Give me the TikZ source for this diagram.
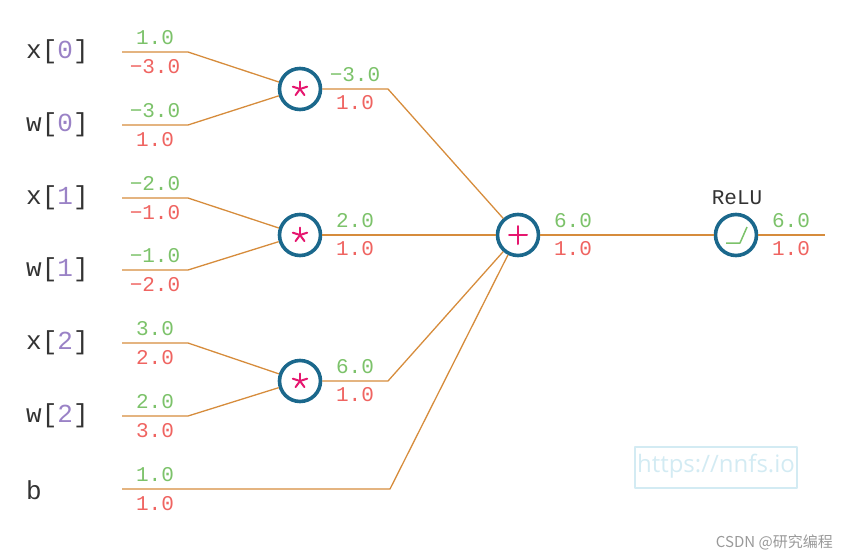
\documentclass[tikz,border=0pt]{standalone}
\usepackage{fontspec}
\setmainfont{Liberation Mono}
\newfontfamily\wmfont{Open Sans}
\newfontfamily\cjkfont{Noto Sans CJK SC}
\definecolor{wireorange}{HTML}{D68C3C}
\definecolor{fwdgreen}{HTML}{7CC26A}
\definecolor{gradred}{HTML}{EF6461}
\definecolor{gateblue}{HTML}{1B688C}
\definecolor{sympink}{HTML}{E6176F}
\definecolor{idxpurple}{HTML}{9A82C6}
\definecolor{lblgray}{HTML}{333333}
\definecolor{wmcyan}{HTML}{D3EBF3}
\newcommand\idx[1]{\textcolor{idxpurple}{#1}}

\begin{document}
\begin{tikzpicture}[x=1pt,y=-1pt,line join=round]
\tikzstyle{gate}=[circle,draw=gateblue,fill=white,line width=3.6pt,minimum size=41pt,inner sep=0pt]
\tikzstyle{wire}=[draw=wireorange,line width=1.3pt]
\tikzstyle{sym}=[draw=sympink,line width=2pt,line cap=round]
\tikzstyle{inlbl}=[anchor=west,inner sep=0pt,text=lblgray,font=\fontsize{26}{26}\selectfont]
\tikzstyle{val}=[inner sep=0pt,font=\fontsize{21}{21}\selectfont]
\tikzstyle{fwd}=[val,text=fwdgreen]
\tikzstyle{grad}=[val,text=gradred]
\useasboundingbox (0,0) rectangle (844,558);

% gates
\node[gate](m0) at (300,89) {};
\node[gate](m1) at (300,235) {};
\node[gate](m2) at (300,381) {};
\node[gate](add) at (518,235) {};
\node[gate](relu) at (736,235) {};
\node[inner sep=0pt,text=lblgray,font=\fontsize{21}{21}\selectfont](rlbl) at (737,198) {ReLU};

% gate symbols
\foreach \g in {m0,m1,m2}
  \foreach \a in {-90,-18,54,126,198}
    \draw[sym] (\g.center) -- +(\a:7.5);
\draw[sym] (add.center) +(-9,0) -- +(9,0) (add.center) +(0,-9) -- +(0,9);
\draw[draw=fwdgreen,line width=1.5pt] (relu.center) +(-10,8) -- +(4,8) -- +(11,-8);

% inputs
\node[inlbl](x0) at (26,52) {x[\idx{0}]};
\node[inlbl](w0) at (26,125) {w[\idx{0}]};
\node[inlbl](x1) at (26,198) {x[\idx{1}]};
\node[inlbl](w1) at (26,270) {w[\idx{1}]};
\node[inlbl](x2) at (26,343) {x[\idx{2}]};
\node[inlbl](w2) at (26,416) {w[\idx{2}]};
\node[inlbl](b) at (26,490) {b};

\coordinate (x0a) at (122,52);  \coordinate (x0k) at (188,52);
\coordinate (w0a) at (122,125); \coordinate (w0k) at (188,125);
\coordinate (x1a) at (122,198); \coordinate (x1k) at (188,198);
\coordinate (w1a) at (122,270); \coordinate (w1k) at (188,270);
\coordinate (x2a) at (122,343); \coordinate (x2k) at (188,343);
\coordinate (w2a) at (122,416); \coordinate (w2k) at (188,416);
\coordinate (ba) at (122,489);  \coordinate (bk) at (390,489);
\coordinate (m0k) at (388,89);
\coordinate (m2k) at (388,381);
\coordinate (out) at (825,235);

\draw[wire] (x0a) -- (x0k) -- (m0);
\draw[wire] (w0a) -- (w0k) -- (m0);
\draw[wire] (x1a) -- (x1k) -- (m1);
\draw[wire] (w1a) -- (w1k) -- (m1);
\draw[wire] (x2a) -- (x2k) -- (m2);
\draw[wire] (w2a) -- (w2k) -- (m2);
\draw[wire] (m0) -- (m0k) -- (add);
\draw[wire] (m1) -- (add);
\draw[wire] (m2) -- (m2k) -- (add);
\draw[wire] (ba) -- (bk) -- (add);
\draw[wire] (add) -- (relu);
\draw[wire] (relu) -- (out);

% forward values and gradients
\node[fwd](x0f) at (155,38) {1.0};   \node[grad](x0g) at (155,67) {−3.0};
\node[fwd](w0f) at (155,111) {−3.0}; \node[grad](w0g) at (155,140) {1.0};
\node[fwd](x1f) at (155,184) {−2.0}; \node[grad](x1g) at (155,213) {−1.0};
\node[fwd](w1f) at (155,256) {−1.0}; \node[grad](w1g) at (155,285) {−2.0};
\node[fwd](x2f) at (155,329) {3.0};  \node[grad](x2g) at (155,358) {2.0};
\node[fwd](w2f) at (155,402) {2.0};  \node[grad](w2g) at (155,431) {3.0};
\node[fwd](bf) at (155,475) {1.0};   \node[grad](bg) at (155,504) {1.0};
\node[fwd](m0f) at (355,75) {−3.0};  \node[grad](m0g) at (355,103) {1.0};
\node[fwd](m1f) at (355,221) {2.0};  \node[grad](m1g) at (355,249) {1.0};
\node[fwd](m2f) at (355,367) {6.0};  \node[grad](m2g) at (355,395) {1.0};
\node[fwd](addf) at (573,221) {6.0}; \node[grad](addg) at (573,249) {1.0};
\node[fwd](reluf) at (791,221) {6.0}; \node[grad](relug) at (791,249) {1.0};

% watermarks
\draw[wmcyan,line width=1.5pt] (635,447) rectangle (797,488);
\node[inner sep=0pt,text=wmcyan,font=\wmfont\fontsize{24}{24}\selectfont](wm) at (716,466) {https://nnfs.io};
\node[anchor=east,inner sep=0pt,text=black!40,font=\cjkfont\fontsize{15}{15}\selectfont](csdn) at (833,542) {CSDN @研究编程};
\end{tikzpicture}
\end{document}
